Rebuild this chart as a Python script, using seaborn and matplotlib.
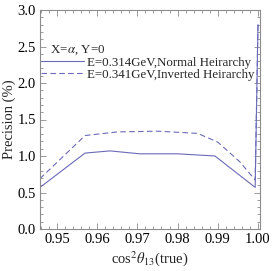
import pandas as pd
import numpy as np
import matplotlib
matplotlib.use("Agg")
import matplotlib.pyplot as plt
import seaborn as sns
from matplotlib.ticker import MultipleLocator

# values
nh_x = [0.9458, 0.9570, 0.9632, 0.9706, 0.9800, 0.9893, 0.9993, 1.0000]
nh_y = [0.57, 1.04, 1.07, 1.03, 1.03, 1.00, 0.57, 2.80]
ih_x = [0.9458, 0.9570, 0.9650, 0.9750, 0.9850, 0.9900, 0.9955, 0.9993, 1.0000]
ih_y = [0.69, 1.28, 1.33, 1.34, 1.31, 1.19, 0.92, 0.67, 2.80]
nh_label = "E=0.314GeV,Normal Heirarchy"
ih_label = "E=0.341GeV,Inverted Heirarchy"

sns.set_theme(style="ticks")
plt.rcParams["font.family"] = ["Liberation Serif", "DejaVu Serif"]
plt.rcParams["mathtext.fontset"] = "stix"

line_color = "#6a6ab8"
frame_color = "#8c8c8c"

nh = pd.DataFrame({"x": nh_x, "y": nh_y})
ih = pd.DataFrame({"x": ih_x, "y": ih_y})

fig = plt.figure(figsize=(2.73, 2.71), dpi=100)
ax = fig.add_axes([40 / 273, 42 / 271, 220 / 273, 219 / 271])

sns.lineplot(data=nh, x="x", y="y", ax=ax, color=line_color, lw=0.8, label=nh_label)
sns.lineplot(data=ih, x="x", y="y", ax=ax, color=line_color, lw=0.8,
             linestyle=(0, (5, 3)), label=ih_label)

ax.set_xlim(0.9458, 1.0005)
ax.set_ylim(0, 3.0)
ax.xaxis.set_minor_locator(MultipleLocator(0.002))
ax.yaxis.set_minor_locator(MultipleLocator(0.1))
ax.set_xticks([0.95, 0.96, 0.97, 0.98, 0.99, 1.00])
ax.set_xticklabels(["0.95", "0.96", "0.97", "0.98", "0.99", "1.00"])
ax.set_yticks([0.0, 0.5, 1.0, 1.5, 2.0, 2.5, 3.0])
ax.set_yticklabels(["0.0", "0.5", "1.0", "1.5", "2.0", "2.5", "3.0"])

ax.tick_params(which="both", direction="in", top=True, right=True,
               color=frame_color, width=0.6, labelsize=10.5, labelcolor="black", pad=3)
ax.tick_params(which="major", length=4)
ax.tick_params(which="minor", length=2)
for s in ax.spines.values():
    s.set_color(frame_color)
    s.set_linewidth(0.8)

ax.set_xlabel(r"cos$^2\theta_{13}$(true)", fontsize=10.5, labelpad=2)
ax.set_ylabel("Precision (%)", fontsize=10.5, labelpad=1)

leg = ax.legend(title="   X=$\\alpha$, Y=0", loc="upper left", bbox_to_anchor=(-0.005, 0.86),
                frameon=False, fontsize=9.3, title_fontsize=9.3, handlelength=3.3,
                handletextpad=0.25, labelspacing=0.0, borderaxespad=0, borderpad=0.2)
leg._legend_box.align = "left"
leg._legend_box.sep = 0

plt.savefig("out.png", dpi=100)
